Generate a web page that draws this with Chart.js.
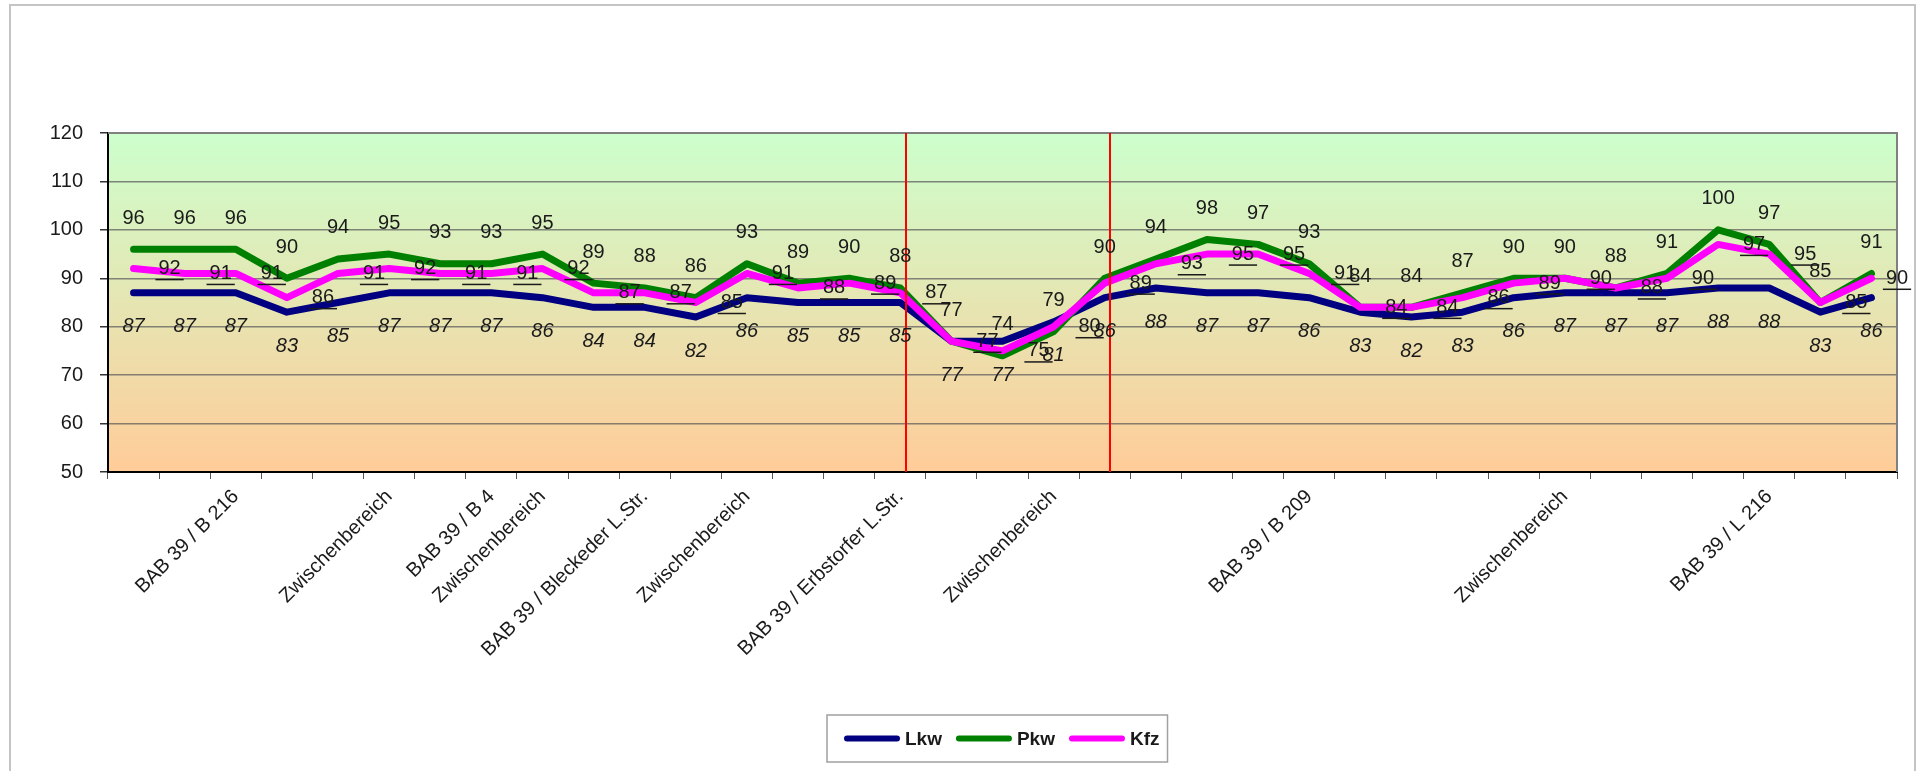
<!DOCTYPE html>
<html>
<head>
<meta charset="utf-8">
<script src="https://cdn.jsdelivr.net/npm/chart.js@4.4.1/dist/chart.umd.min.js"></script>
<style>
	html, body { margin: 0; padding: 0; background: #fff; }
	canvas { display: block; }
</style>
</head>
<body>
<canvas id="grafico" width="1917" height="771"></canvas>
<script>
// Abschnitte entlang der Strecke (nur einige tragen eine Beschriftung)
var abschnitte = ['', '', 'BAB 39 / B 216', '', '', 'Zwischenbereich', '', 'BAB 39 / B 4', 'Zwischenbereich', '',
	'BAB 39 / Bleckeder L.Str.', '', 'Zwischenbereich', '', '', 'BAB 39 / Erbstorfer L.Str.', '', '', 'Zwischenbereich', '',
	'', '', '', 'BAB 39 / B 209', '', '', '', '', 'Zwischenbereich', '',
	'', '', 'BAB 39 / L 216', '', ''];

var lkw = [87, 87, 87, 83, 85, 87, 87, 87, 86, 84, 84, 82, 86, 85, 85, 85, 77, 77, 81, 86, 88, 87, 87, 86, 83, 82, 83, 86, 87, 87, 87, 88, 88, 83, 86];
var pkw = [96, 96, 96, 90, 94, 95, 93, 93, 95, 89, 88, 86, 93, 89, 90, 88, 77, 74, 79, 90, 94, 98, 97, 93, 84, 84, 87, 90, 90, 88, 91, 100, 97, 85, 91];
var kfz = [92, 91, 91, 86, 91, 92, 91, 91, 92, 87, 87, 85, 91, 88, 89, 87, 77, 75, 80, 89, 93, 95, 95, 91, 84, 84, 86, 89, 90, 88, 90, 97, 95, 85, 90];

var yMin = 50, yMax = 120, yStep = 10;
// rote Trennlinien hinter diesen Abschnitten
var grenzen = [15, 19];

var SCHRIFT = "'Liberation Sans', Arial, sans-serif";

var hintergrund = {
	id: 'hintergrund',
	beforeDraw: function(chart) {
		var ctx = chart.ctx, a = chart.chartArea;
		ctx.save();
		ctx.fillStyle = '#ffffff';
		ctx.fillRect(0, 0, chart.width, chart.height);
		ctx.strokeStyle = '#c4c4c4';
		ctx.lineWidth = 2;
		ctx.strokeRect(10, 5, chart.width - 12, chart.height + 20);
		var g = ctx.createLinearGradient(0, a.top, 0, a.bottom);
		g.addColorStop(0, '#ccffcc');
		g.addColorStop(1, '#ffcc99');
		ctx.fillStyle = g;
		ctx.fillRect(a.left, a.top, a.right - a.left, a.bottom - a.top);
		ctx.restore();
	},
	beforeDatasetsDraw: function(chart) {
		var ctx = chart.ctx, a = chart.chartArea;
		ctx.save();
		ctx.strokeStyle = '#808080';
		ctx.lineWidth = 2;
		ctx.beginPath();
		ctx.moveTo(a.left, a.top);
		ctx.lineTo(a.right, a.top);
		ctx.lineTo(a.right, a.bottom);
		ctx.stroke();
		ctx.restore();
	}
};

var etiketten = {
	id: 'etiketten',
	afterDatasetsDraw: function(chart) {
		var ctx = chart.ctx, a = chart.chartArea, sx = chart.scales.x;
		ctx.save();
		// rote Linien
		ctx.strokeStyle = '#ff0000';
		ctx.lineWidth = 2;
		grenzen.forEach(function(idx) {
			var x = Math.round(sx.getPixelForValue(idx + 0.11));
			ctx.beginPath();
			ctx.moveTo(x, a.top);
			ctx.lineTo(x, a.bottom);
			ctx.stroke();
		});

		ctx.fillStyle = '#1a1a1a';
		ctx.strokeStyle = '#1a1a1a';
		ctx.textBaseline = 'middle';
		chart.data.datasets.forEach(function(ds, i) {
			var meta = chart.getDatasetMeta(i);
			meta.data.forEach(function(pt, j) {
				var txt = String(ds.data[j]);
				if (ds.etikett === 'oben') {
					ctx.font = '20px ' + SCHRIFT;
					ctx.textAlign = 'center';
					ctx.fillText(txt, pt.x, pt.y - 31);
				} else if (ds.etikett === 'unten') {
					ctx.font = 'italic 20px ' + SCHRIFT;
					ctx.textAlign = 'center';
					ctx.fillText(txt, pt.x, pt.y + 34);
				} else {
					ctx.font = '20px ' + SCHRIFT;
					ctx.textAlign = 'center';
					var cx = Math.min(pt.x + 36, a.right);
					ctx.fillText(txt, cx, pt.y);
					var w = ctx.measureText(txt).width;
					ctx.lineWidth = 1.5;
					ctx.beginPath();
					ctx.moveTo(cx - w / 2 - 3, pt.y + 11);
					ctx.lineTo(cx + w / 2 + 3, pt.y + 11);
					ctx.stroke();
				}
			});
		});
		ctx.restore();
	},
	afterDraw: function(chart) {
		var ctx = chart.ctx, a = chart.chartArea;
		var datasets = chart.data.datasets;
		ctx.save();
		ctx.font = 'bold 19px ' + SCHRIFT;
		var linie = 56, luecke = 5, abstand = 14;
		var breite = 17 + 8;
		datasets.forEach(function(ds, i) {
			breite += linie + luecke + ctx.measureText(ds.label).width;
			if (i < datasets.length - 1) breite += abstand;
		});
		var links = Math.round((a.left + a.right) / 2 - breite / 2 - 5);
		var oben = 715, hoehe = 47;
		ctx.strokeStyle = '#a0a0a0';
		ctx.lineWidth = 1.5;
		ctx.fillStyle = '#ffffff';
		ctx.fillRect(links, oben, breite, hoehe);
		ctx.strokeRect(links, oben, breite, hoehe);
		var x = links + 17, y = oben + hoehe / 2;
		ctx.textBaseline = 'middle';
		ctx.textAlign = 'left';
		datasets.forEach(function(ds) {
			ctx.strokeStyle = ds.borderColor;
			ctx.lineWidth = 6;
			ctx.lineCap = 'round';
			ctx.beginPath();
			ctx.moveTo(x + 3, y);
			ctx.lineTo(x + linie - 3, y);
			ctx.stroke();
			x += linie + luecke;
			ctx.fillStyle = '#1a1a1a';
			ctx.fillText(ds.label, x, y + 1);
			x += ctx.measureText(ds.label).width + abstand;
		});
		ctx.restore();
	}
};

var linie = function(label, daten, farbe, reihenfolge, etikett) {
	return {
		label: label,
		data: daten,
		borderColor: farbe,
		backgroundColor: farbe,
		borderWidth: 7,
		borderJoinStyle: 'round',
		borderCapStyle: 'round',
		tension: 0,
		pointRadius: 0,
		pointHoverRadius: 0,
		fill: false,
		order: reihenfolge,
		etikett: etikett
	};
};

var contexto = document.getElementById('grafico');
new Chart(contexto, {
	type: 'line',
	data: {
		labels: abschnitte,
		datasets: [
			linie('Lkw', lkw, '#000080', 2, 'unten'),
			linie('Pkw', pkw, '#008000', 1, 'oben'),
			linie('Kfz', kfz, '#ff00ff', 0, 'rechts')
		]
	},
	options: {
		responsive: false,
		animation: false,
		events: [],
		layout: { padding: { left: 0, top: 133, right: 20, bottom: 0 } },
		plugins: {
			legend: { display: false },
			tooltip: { enabled: false },
			title: { display: false }
		},
		scales: {
			x: {
				offset: true,
				grid: { offset: true, drawOnChartArea: false, drawTicks: true, tickLength: 7, tickColor: '#555' },
				border: { color: '#000', width: 2 },
				ticks: {
					autoSkip: false,
					maxRotation: 45,
					minRotation: 45,
					padding: 6,
					color: '#1a1a1a',
					font: { family: SCHRIFT, size: 20 }
				},
				afterFit: function(scale) { scale.height = 299; }
			},
			y: {
				min: yMin,
				max: yMax,
				grid: { color: 'rgba(95,95,95,0.75)', lineWidth: 1.5, tickLength: 8, tickColor: '#333' },
				border: { color: '#000', width: 2 },
				ticks: {
					stepSize: yStep,
					padding: 17,
					color: '#1a1a1a',
					font: { family: SCHRIFT, size: 20 }
				},
				afterFit: function(scale) { scale.width = 108; }
			}
		}
	},
	plugins: [hintergrund, etiketten]
});
</script>
</body>
</html>
